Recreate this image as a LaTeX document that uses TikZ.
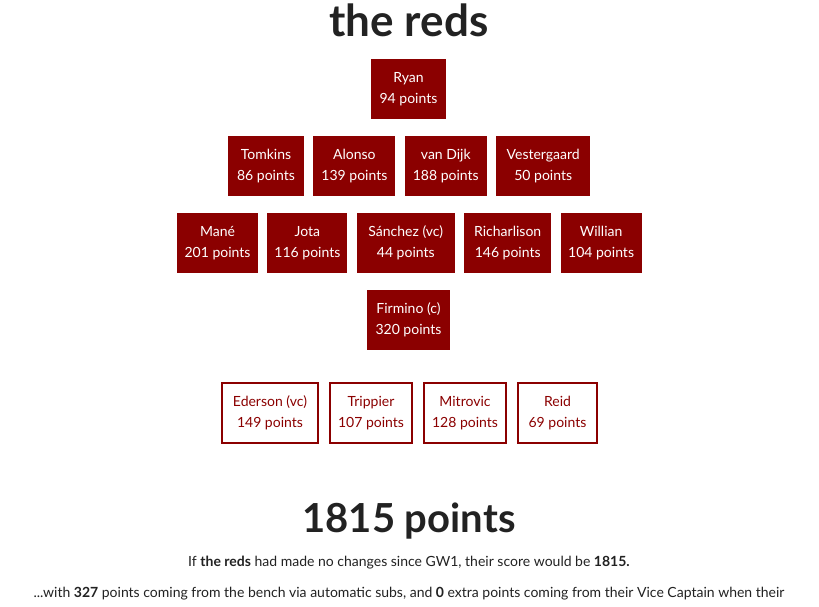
\documentclass[tikz,border=0pt]{standalone}
\usepackage{fontspec}
\setmainfont{Lato}
\usetikzlibrary{positioning}
\definecolor{reds}{HTML}{8B0000}
\definecolor{ink}{HTML}{222222}

\begin{document}
\begin{tikzpicture}[x=1pt,y=-1pt,node distance=9pt,
  player/.style={fill=reds,text=white,align=center,inner sep=0pt,
    minimum height=60pt,font=\fontsize{14}{21}\selectfont},
  bench/.style={draw=reds,line width=2pt,fill=white,text=reds,align=center,
    inner sep=0pt,minimum height=60pt,font=\fontsize{14}{21}\selectfont},
  heading/.style={text=ink,font=\fontsize{40}{48}\selectfont\bfseries},
  blurb/.style={text=ink,font=\fontsize{14}{18}\selectfont}]
  \useasboundingbox[fill=white] (0,0) rectangle (819,606);

  \node[heading,font=\fontsize{44}{50}\selectfont\bfseries] (title) at (409,20) {the reds};

  % goalkeeper
  \node[player,minimum width=75pt] (ryan) at (408.5,89) {Ryan\\94 points};

  % defence
  \node[player,minimum width=76pt] (tomkins) at (266,166) {Tomkins\\86 points};
  \node[player,minimum width=82pt,right=of tomkins] (alonso) {Alonso\\139 points};
  \node[player,minimum width=82pt,right=of alonso] (vandijk) {van Dijk\\188 points};
  \node[player,minimum width=94pt,right=of vandijk] (vestergaard) {Vestergaard\\50 points};

  % midfield
  \node[player,minimum width=81pt] (mane) at (217.5,243) {Mané\\201 points};
  \node[player,minimum width=80pt,right=of mane] (jota) {Jota\\116 points};
  \node[player,minimum width=98pt,right=of jota] (sanchez) {Sánchez (vc)\\44 points};
  \node[player,minimum width=87pt,right=of sanchez] (richarlison) {Richarlison\\146 points};
  \node[player,minimum width=81pt,right=of richarlison] (willian) {Willian\\104 points};

  % attack
  \node[player,minimum width=83pt] (firmino) at (408.5,320) {Firmino (c)\\320 points};

  % bench
  \node[bench,minimum width=96pt] (ederson) at (270,413) {Ederson (vc)\\149 points};
  \node[bench,minimum width=82pt,right=10pt of ederson] (trippier) {Trippier\\107 points};
  \node[bench,minimum width=82pt,right=10pt of trippier] (mitrovic) {Mitrovic\\128 points};
  \node[bench,minimum width=79pt,right=10pt of mitrovic] (reid) {Reid\\69 points};

  % totals
  \node[heading] (total) at (409,521) {1815 points};
  \node[blurb] (line1) at (409,563)
    {If \textbf{the reds} had made no changes since GW1, their score would be \textbf{1815.}};
  \node[blurb] (line2) at (409,594)
    {...with \textbf{327} points coming from the bench via automatic subs, and \textbf{0} extra points coming from their Vice Captain when their};
\end{tikzpicture}
\end{document}
